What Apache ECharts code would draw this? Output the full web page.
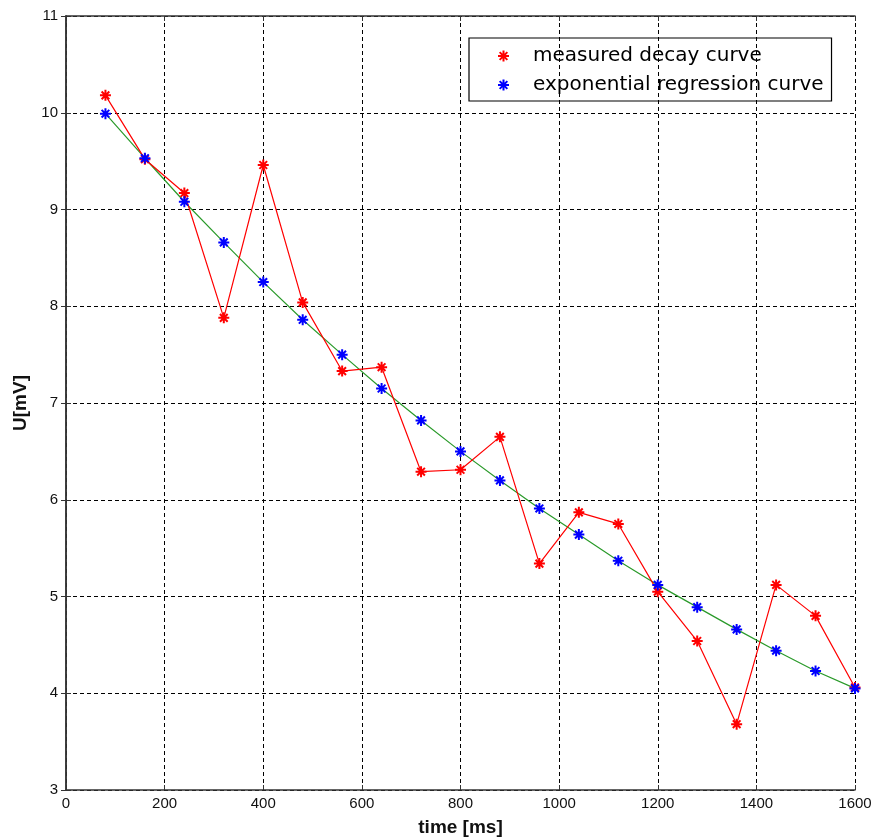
<!DOCTYPE html>
<html>
<head>
  <meta charset="UTF-8">
  <title>decay curve</title>
  <script src="https://cdn.jsdelivr.net/npm/echarts@6/dist/echarts.min.js"></script>
  <style>
    html, body { margin: 0; padding: 0; background: #fff; }
    #main { width: 872px; height: 839px; }
  </style>
</head>
<body>
<div id="main"></div>
<script type="text/javascript">
  // x positions (ms)
  var times = [80, 160, 240, 320, 400, 480, 560, 640, 720, 800, 880, 960, 1040, 1120, 1200, 1280, 1360, 1440, 1520, 1600];
  // measured values (mV)
  var measured = [10.18, 9.52, 9.17, 7.88, 9.46, 8.04, 7.33, 7.37, 6.29, 6.31, 6.65, 5.34, 5.87, 5.75, 5.05, 4.54, 3.68, 5.12, 4.80, 4.06];
  // regression values (mV)
  var regression = [9.99, 9.53, 9.08, 8.66, 8.25, 7.86, 7.50, 7.15, 6.82, 6.50, 6.20, 5.91, 5.64, 5.37, 5.12, 4.89, 4.66, 4.44, 4.23, 4.05];
  var xTicks = [0, 200, 400, 600, 800, 1000, 1200, 1400, 1600];
  var yTicks = [3, 4, 5, 6, 7, 8, 9, 10, 11];

  var star = 'path://M0,-10L0,10M-10,0L10,0M-7,-7L7,7M-7,7L7,-7';

  function pairs(ys) {
    var out = [];
    for (var i = 0; i < times.length; i++) out.push([times[i], ys[i]]);
    return out;
  }

  var myChart = echarts.init(document.getElementById('main'));
  var lbl = { color: '#111', fontSize: 15, fontFamily: 'Liberation Sans, Arial' };
  var nameStyle = { fontSize: 19, fontWeight: 'bold', color: '#111', fontFamily: 'Liberation Sans, Arial' };

  myChart.setOption({
    animation: false,
    grid: { left: 66, right: 17, top: 16, bottom: 49, outerBoundsMode: 'none', containLabel: false },
    legend: {
      left: 469, top: 38,
      orient: 'vertical',
      data: ['measured decay curve', 'exponential regression curve'],
      icon: star,
      itemWidth: 11, itemHeight: 11,
      itemGap: 9,
      borderColor: '#000', borderWidth: 1.2,
      padding: [8, 8, 6, 28],
      textStyle: { fontSize: 20, lineHeight: 20, color: '#000', fontFamily: 'DejaVu Sans', padding: [0, 0, 0, 19] }
    },
    xAxis: [{
      type: 'value', min: 0, max: 1600, interval: 200,
      name: 'time [ms]', nameLocation: 'middle', nameGap: 28,
      nameTextStyle: nameStyle,
      axisLine: { show: true, lineStyle: { color: '#333', width: 1.5 } },
      axisTick: { show: true, inside: true, length: 5, lineStyle: { color: '#333' } },
      axisLabel: Object.assign({ margin: 6, formatter: function (v) { return xTicks.indexOf(v) >= 0 ? v : ''; } }, lbl),
      splitLine: { show: true, lineStyle: { color: '#000', type: [4, 3], width: 1 } }
    }, {
      type: 'value', min: 0, max: 1600, interval: 200, position: 'top',
      axisLine: { show: true, lineStyle: { color: '#333', width: 1.5 } },
      axisTick: { show: true, inside: true, length: 5, lineStyle: { color: '#333' } },
      axisLabel: { show: false }, splitLine: { show: false }
    }],
    yAxis: [{
      type: 'value', min: 3, max: 11, interval: 1,
      name: 'U[mV]', nameLocation: 'middle', nameGap: 34,
      nameTextStyle: nameStyle,
      axisLine: { show: true, lineStyle: { color: '#333', width: 1.5 } },
      axisTick: { show: true, inside: true, length: 5, lineStyle: { color: '#333' } },
      axisLabel: Object.assign({ margin: 8, formatter: function (v) { return yTicks.indexOf(v) >= 0 ? v : ''; } }, lbl),
      splitLine: { show: true, lineStyle: { color: '#000', type: [4, 3], width: 1 } }
    }, {
      type: 'value', min: 3, max: 11, interval: 1, position: 'right',
      axisLine: { show: true, lineStyle: { color: '#333', width: 1.5 } },
      axisTick: { show: true, inside: true, length: 5, lineStyle: { color: '#333' } },
      axisLabel: { show: false }, splitLine: { show: false }
    }],
    series: [{
      name: 'regression line',
      type: 'line',
      data: pairs(regression),
      showSymbol: false,
      lineStyle: { color: '#2a9a2a', width: 1.2 },
      z: 2
    }, {
      name: 'measured decay curve',
      type: 'line',
      data: pairs(measured),
      symbol: star, symbolSize: 11,
      lineStyle: { color: '#ff0000', width: 1.2 },
      itemStyle: { color: '#ff0000', borderColor: '#ff0000', borderWidth: 2 },
      z: 3
    }, {
      name: 'exponential regression curve',
      type: 'scatter',
      data: pairs(regression),
      symbol: star, symbolSize: 11,
      itemStyle: { color: '#0000ff', borderColor: '#0000ff', borderWidth: 2, opacity: 1 },
      z: 4
    }]
  });
</script>
</body>
</html>
